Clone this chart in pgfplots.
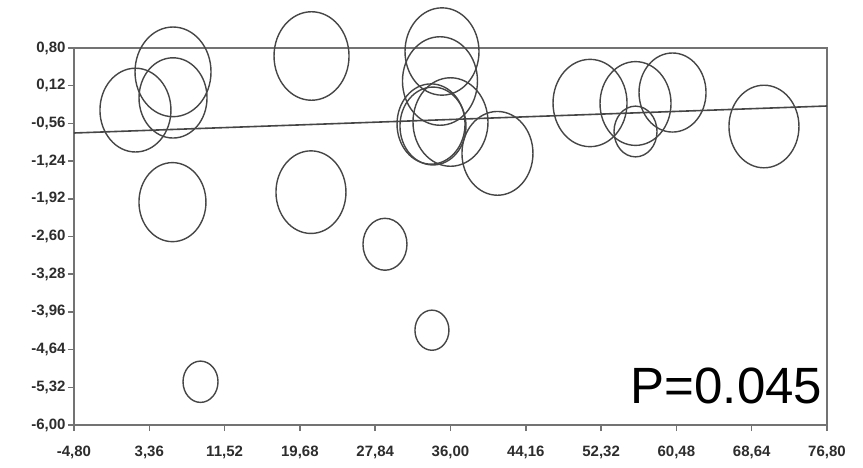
\documentclass[border=0pt]{standalone}
\usepackage{pgfplots}
\pgfplotsset{compat=1.18}
\usepackage{fontspec}
\setmainfont{Liberation Sans}
\definecolor{axgray}{RGB}{115,115,115}
\definecolor{circ}{RGB}{70,70,70}
\definecolor{lab}{RGB}{45,45,45}
\pgfplotstableread{
x y r
1.86 -0.32 35.5
5.93 0.37 38
5.93 -0.10 34
5.87 -1.98 33.5
20.94 0.656 37.5
20.88 -1.80 35
28.90 -2.74 22
33.99 -4.29 17
8.91 -5.22 17.5
35.08 0.737 37
34.86 0.205 37.5
33.89 -0.571 34
34.10 -0.607 33
36.00 -0.535 37.5
41.09 -1.10 35.5
51.12 -0.192 37
56.05 -0.201 35.5
56.05 -0.706 21.5
60.06 -0.003 33.5
69.97 -0.616 35
}\bubbles
\begin{document}
\begin{tikzpicture}
\useasboundingbox (-74pt,-42pt) rectangle (789pt,425pt);
\begin{axis}[
  at={(0,0)}, anchor=south west,
  scale only axis, width=753pt, height=377pt,
  xmin=-4.8, xmax=76.8, ymin=-6, ymax=0.8,
  xtick={-4.8,3.36,11.52,19.68,27.84,36,44.16,52.32,60.48,68.64,76.8},
  ytick={-6,-5.32,-4.64,-3.96,-3.28,-2.6,-1.92,-1.24,-0.56,0.12,0.8},
  tick align=outside, tick pos=left,
  major tick length=6pt,
  axis line style={axgray, line width=2pt},
  every tick/.style={axgray, line width=1.5pt},
  /pgf/number format/fixed,
  /pgf/number format/fixed zerofill,
  /pgf/number format/precision=2,
  /pgf/number format/use comma,
  /pgf/number format/assume math mode=true,
  tick label style={font=\fontsize{15}{17}\selectfont\bfseries, text=lab},
  yticklabel style={xshift=1pt},
  xticklabel style={yshift=-11pt},
  clip=false,
]
\addplot[circ, line width=1.6pt] coordinates {(-4.8,-0.733) (76.8,-0.246)};
\addplot[scatter, only marks, mark=o,
  scatter/use mapped color={draw=circ, fill=none},
  mark options={line width=1.4pt, yscale=1.18},
  visualization depends on={\thisrow{r}\as\rad},
  scatter/@pre marker code/.append style={/tikz/mark size=\rad pt},
] table[x=x, y=y] {\bubbles};
\node[anchor=base east, font=\fontsize{51}{55}\selectfont, text=black, inner sep=0pt] at (axis cs:76.3,-5.62) {P=0.045};
\end{axis}
\end{tikzpicture}
\end{document}
